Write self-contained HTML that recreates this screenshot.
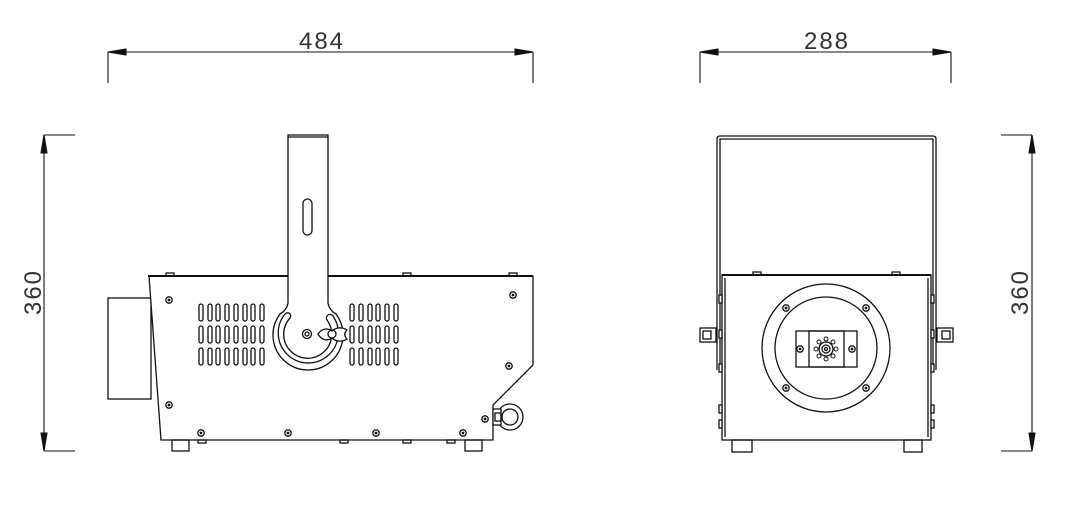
<!DOCTYPE html>
<html><head><meta charset="utf-8"><style>
html,body{margin:0;padding:0;background:#fff;}
svg{display:block;}
text{font-family:"Liberation Sans",sans-serif;font-size:24px;fill:#333;letter-spacing:2px;}
</style></head><body>
<svg width="1066" height="527" viewBox="0 0 1066 527" xmlns="http://www.w3.org/2000/svg" stroke="#111" stroke-width="1.3" fill="none">
<defs>
<g id="scr"><circle r="3.2" fill="#fff"/><circle r="1.4" fill="#111" stroke="none"/></g>
<path id="vent" d="M-2,-7 a2,2 0 0 1 4,0 v13 a2,2 0 0 1 -4,0 z"/>
</defs>
<g stroke-width="1.1">
<line x1="108" y1="52" x2="533" y2="52"/><line x1="108" y1="52" x2="108" y2="83"/><line x1="533" y1="52" x2="533" y2="83"/>
<path d="M108,52 l18,-3 v6 z M533,52 l-18,-3 v6 z" fill="#111"/>
<line x1="700" y1="52" x2="951" y2="52"/><line x1="700" y1="52" x2="700" y2="83"/><line x1="951" y1="52" x2="951" y2="83"/>
<path d="M700,52 l18,-3 v6 z M951,52 l-18,-3 v6 z" fill="#111"/>
<line x1="44" y1="135" x2="44" y2="451"/><line x1="44" y1="135" x2="75" y2="135"/><line x1="44" y1="451" x2="75" y2="451"/>
<path d="M44,135 l-3,18 h6 z M44,451 l-3,-18 h6 z" fill="#111"/>
<line x1="1032" y1="135" x2="1032" y2="451"/><line x1="1001" y1="135" x2="1032" y2="135"/><line x1="1001" y1="451" x2="1032" y2="451"/>
<path d="M1032,135 l-3,18 h6 z M1032,451 l-3,-18 h6 z" fill="#111"/>
</g>
<g stroke="none">
<text x="322" y="49" text-anchor="middle">484</text>
<text x="827" y="49" text-anchor="middle">288</text>
<text transform="translate(41,292) rotate(-90)" text-anchor="middle">360</text>
<text transform="translate(1028,292) rotate(-90)" text-anchor="middle">360</text>
</g>
<rect x="108" y="298" width="43" height="101" fill="#fff"/>
<path d="M149,276 H533 V365 L493,405 V440 H161 Z" fill="#fff"/>
<line x1="148" y1="276" x2="533" y2="276" stroke-width="2"/>
<rect x="172" y="440" width="17" height="11"/><rect x="465" y="440" width="17" height="11"/>
<rect x="166" y="273" width="8" height="3"/><rect x="403" y="273" width="8" height="3"/><rect x="509" y="273" width="8" height="3"/>
<rect x="198" y="440" width="8" height="3"/><rect x="340" y="440" width="8" height="3"/><rect x="403" y="440" width="8" height="3"/><rect x="447" y="440" width="8" height="3"/>
<path d="M288,135 H328 V303 Q329,310 336,314 A35,35 0 1 1 280,314 Q287,310 288,303 Z" fill="#fff"/>
<line x1="288" y1="137" x2="328" y2="137"/>
<rect x="303" y="199" width="9" height="36" rx="4.5"/>
<path d="M285,314 A30,30 0 1 0 333,316 A3,3 0 0 0 327,320 A24,24 0 1 1 290,318 A3,3 0 0 0 285,314 Z"/>
<circle cx="307" cy="334" r="4.5"/><circle cx="307" cy="334" r="2"/>
<path d="M318,334 c4,-6 10,-6 14,-3 c4,-4 11,-4 15,-1 c-3,3 -3,6 0,9 c-4,3 -11,3 -15,-1 c-4,3 -10,3 -14,-4 z" fill="#fff"/>
<circle cx="332" cy="334" r="4"/>
<g>
<use href="#vent" x="201" y="313"/><use href="#vent" x="210" y="313"/><use href="#vent" x="218" y="313"/><use href="#vent" x="227" y="313"/><use href="#vent" x="236" y="313"/><use href="#vent" x="245" y="313"/><use href="#vent" x="253" y="313"/><use href="#vent" x="262" y="313"/>
<use href="#vent" x="201" y="335"/><use href="#vent" x="210" y="335"/><use href="#vent" x="218" y="335"/><use href="#vent" x="227" y="335"/><use href="#vent" x="236" y="335"/><use href="#vent" x="245" y="335"/><use href="#vent" x="253" y="335"/><use href="#vent" x="262" y="335"/>
<use href="#vent" x="201" y="357"/><use href="#vent" x="210" y="357"/><use href="#vent" x="218" y="357"/><use href="#vent" x="227" y="357"/><use href="#vent" x="236" y="357"/><use href="#vent" x="245" y="357"/><use href="#vent" x="253" y="357"/><use href="#vent" x="262" y="357"/>
<use href="#vent" x="352" y="313"/><use href="#vent" x="361" y="313"/><use href="#vent" x="370" y="313"/><use href="#vent" x="378" y="313"/><use href="#vent" x="387" y="313"/><use href="#vent" x="396" y="313"/>
<use href="#vent" x="352" y="335"/><use href="#vent" x="361" y="335"/><use href="#vent" x="370" y="335"/><use href="#vent" x="378" y="335"/><use href="#vent" x="387" y="335"/><use href="#vent" x="396" y="335"/>
<use href="#vent" x="352" y="357"/><use href="#vent" x="361" y="357"/><use href="#vent" x="370" y="357"/><use href="#vent" x="378" y="357"/><use href="#vent" x="387" y="357"/><use href="#vent" x="396" y="357"/>
</g>
<use href="#scr" x="169" y="300"/><use href="#scr" x="169" y="405"/><use href="#scr" x="513" y="295"/><use href="#scr" x="509" y="366"/>
<use href="#scr" x="201" y="433"/><use href="#scr" x="288" y="433"/><use href="#scr" x="376" y="433"/><use href="#scr" x="463" y="433"/><use href="#scr" x="485" y="419"/>
<circle cx="510" cy="417" r="13" fill="#fff"/><circle cx="510" cy="417" r="8"/>
<rect x="493" y="409" width="8" height="16" fill="#fff"/><rect x="495" y="413" width="6" height="8"/>
<path d="M717,370 V139 Q717,136 720,136 H933 Q936,136 936,139 V370"/>
<path d="M720,370 V139 H933 V370"/>
<rect x="722" y="275" width="209" height="165" fill="#fff"/>
<line x1="722" y1="275" x2="931" y2="275" stroke-width="2"/>
<line x1="725" y1="278" x2="725" y2="437"/><line x1="928" y1="278" x2="928" y2="437"/>
<rect x="732" y="440" width="20" height="12"/><rect x="904" y="440" width="18" height="12"/>
<rect x="753" y="272" width="8" height="3"/><rect x="892" y="272" width="8" height="3"/>
<rect x="700" y="328" width="16" height="14"/><rect x="703" y="331" width="8" height="8"/>
<rect x="937" y="328" width="16" height="14"/><rect x="942" y="331" width="8" height="8"/>
<circle cx="826" cy="348" r="64"/><circle cx="826" cy="348" r="51"/>
<use href="#scr" x="786" y="308"/><use href="#scr" x="866" y="308"/><use href="#scr" x="786" y="388"/><use href="#scr" x="866" y="388"/>
<rect x="796" y="331" width="61" height="36"/><rect x="809" y="331" width="35" height="36"/>
<use href="#scr" x="800" y="349"/><use href="#scr" x="852" y="349"/>
<circle cx="826" cy="349" r="7"/><circle cx="826" cy="349" r="4"/><circle cx="826" cy="349" r="1.5"/>
<g stroke-width="1"><circle cx="826" cy="339" r="2"/><circle cx="833" cy="342" r="2"/><circle cx="836" cy="349" r="2"/><circle cx="833" cy="356" r="2"/><circle cx="826" cy="359" r="2"/><circle cx="819" cy="356" r="2"/><circle cx="816" cy="349" r="2"/><circle cx="819" cy="342" r="2"/></g>
<g fill="#fff"><rect x="719" y="295" width="3" height="8"/><rect x="719" y="330" width="3" height="8"/><rect x="719" y="364" width="3" height="8"/><rect x="719" y="405" width="3" height="8"/><rect x="719" y="420" width="3" height="8"/>
<rect x="931" y="295" width="3" height="8"/><rect x="931" y="330" width="3" height="8"/><rect x="931" y="364" width="3" height="8"/><rect x="931" y="405" width="3" height="8"/><rect x="931" y="420" width="3" height="8"/></g>
</svg>
</body></html>
